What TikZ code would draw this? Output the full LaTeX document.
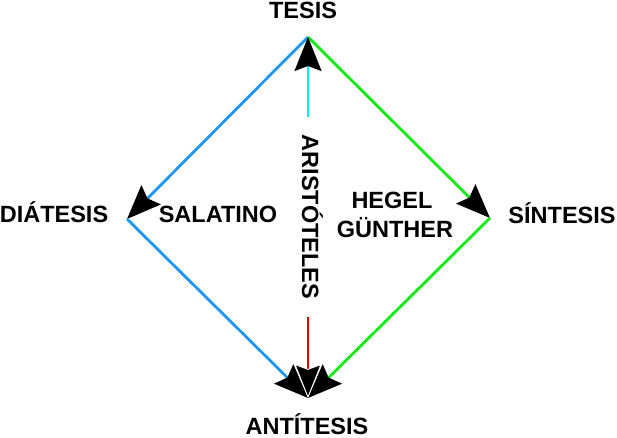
\documentclass[tikz,border=0pt]{standalone}
\usepackage{fontspec}
\setmainfont{Liberation Sans}
\usetikzlibrary{arrows.meta}

\begin{document}
\begin{tikzpicture}[x=1pt, y=-1pt, font=\bfseries\fontsize{23.5}{28}\selectfont,
		>={Stealth[length=34pt, width=27pt, inset=5pt, color=black]},
		lbl/.style={inner sep=0pt, anchor=base},
		lado/.style={line width=2.8pt},
		eje/.style={line width=2pt}]
	\definecolor{azul}{RGB}{30,150,245}
	\definecolor{verde}{RGB}{20,235,20}
	\definecolor{celeste}{RGB}{0,240,250}
	\definecolor{rojo}{RGB}{235,0,0}
	\useasboundingbox (0,0) rectangle (617,438);

	% vertices
	\coordinate (vtesis) at (308,37);
	\coordinate (vdiatesis) at (127,219);
	\coordinate (vsintesis) at (490,218);
	\coordinate (vantitesis) at (308,398);
	\coordinate (ccyan) at (308,117);
	\coordinate (cred) at (308,317);

	% textos
	\node[lbl] (tesis) at (303,18.5) {TESIS};
	\node[lbl] (diatesis) at (54,222) {DIÁTESIS};
	\node[lbl] (sintesis) at (562,223) {SÍNTESIS};
	\node[lbl] (antitesis) at (307,434) {ANTÍTESIS};
	\node[lbl] (salatino) at (218,222) {SALATINO};
	\node[lbl] (hegel) at (392,208) {HEGEL};
	\node[lbl] (gunther) at (395,237) {GÜNTHER};
	\node[lbl, rotate=-90] (aristoteles) at (302,217) {ARISTÓTELES};

	% lados del rombo
	\draw[->, lado, azul] (vtesis) -- (vdiatesis);
	\draw[->, lado, verde] (vtesis) -- (vsintesis);
	\draw[->, lado, azul] (vdiatesis) -- (vantitesis);
	\draw[->, lado, verde] (vsintesis) -- (vantitesis);

	% eje vertical
	\draw[->, eje, celeste] (ccyan) -- (vtesis);
	\draw[-{Stealth[length=34pt, width=27pt, inset=5pt, color=white, fill=black, line width=0.8pt]}, eje, rojo] (cred) -- (vantitesis);
\end{tikzpicture}
\end{document}
